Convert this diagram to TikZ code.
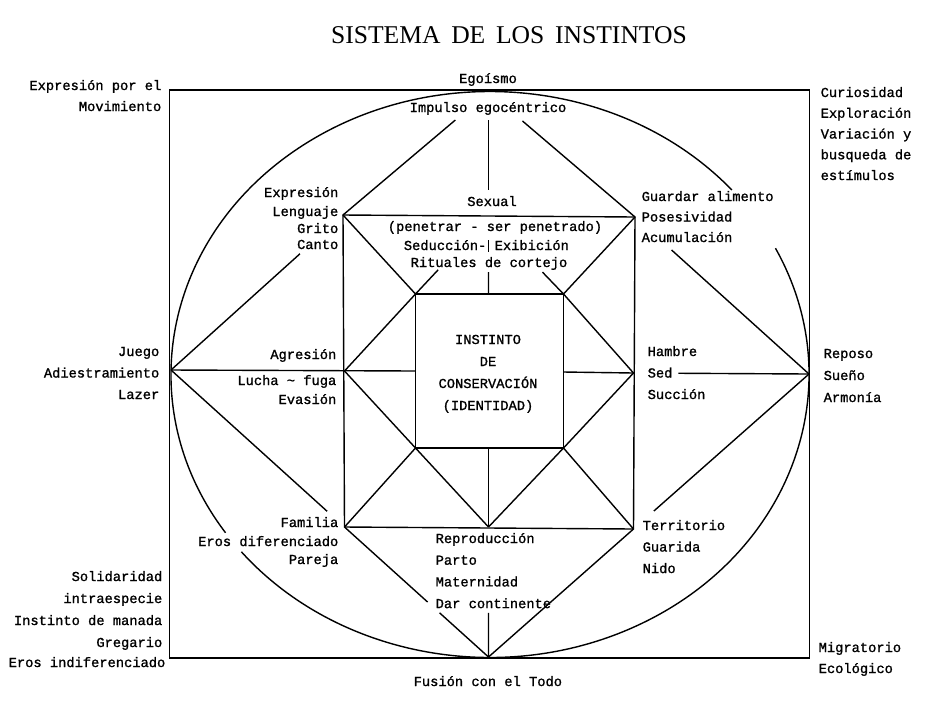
\documentclass[tikz,border=0pt]{standalone}
\usepackage{fontspec}
\setmainfont{Liberation Serif}
\newfontfamily\lmono[FakeBold=1.2]{Liberation Mono}
\usetikzlibrary{calc}
\begin{document}
\begin{tikzpicture}[x=0.75pt,y=-0.75pt,line width=1.05pt,
  lbl/.style={font=\lmono\fontsize{10.3}{12}\selectfont,inner sep=0pt},
  ttl/.style={font=\fontsize{19.2}{23}\selectfont,inner sep=0pt}]
\useasboundingbox (0,0) rectangle (928,708);
% key points
\coordinate (T) at (488.5,92);   \coordinate (B) at (488.5,657);
\coordinate (L) at (171,370);  \coordinate (R) at (809,374);
\coordinate (C) at (490,374.5);
\coordinate (mTL) at (343,215); \coordinate (mT) at (488.5,216); \coordinate (mTR) at (635,217);
\coordinate (mL) at (344.5,371);  \coordinate (mR) at (633.5,373);
\coordinate (mBL) at (344.5,527); \coordinate (mB) at (488.5,527); \coordinate (mBR) at (633.5,529);
\coordinate (iTL) at (415.5,294); \coordinate (iT) at (488.5,294); \coordinate (iTR) at (563.5,294);
\coordinate (iL) at (415.5,371);  \coordinate (iR) at (563.5,372);
\coordinate (iBL) at (415.5,448); \coordinate (iB) at (488.5,448); \coordinate (iBR) at (563.5,448);
% outer frame and ellipse
\draw (169.5,90) rectangle (809.5,658);
\draw ([shift={(-26.5:319 and 283)}]C) arc[start angle=-26.5,end angle=141.2,x radius=319,y radius=283];
\draw ([shift={(146:319 and 283)}]C) arc[start angle=146,end angle=319.3,x radius=319,y radius=283];
% squares
\draw (mTL) -- (mTR) -- (mBR) -- (mBL) -- cycle;
\draw (iTL) -- (iTR) -- (iBR) -- (iBL) -- cycle;
% diagonals between squares
\draw (mTL) -- (iTL); \draw (mTR) -- (iTR); \draw (mBL) -- (iBL); \draw (mBR) -- (iBR);
\draw (iTL) -- (mL); \draw (iBL) -- (mL); \draw (iTR) -- (mR); \draw (iBR) -- (mR);
\draw (iBL) -- (mB); \draw (iBR) -- (mB);
\draw ($(mT)!0.69!(iTL)$) -- (iTL);
\draw ($(mT)!0.72!(iTR)$) -- (iTR);
% cross lines
\draw ($(mT)!0.718!(iT)$) -- (iT);
\draw ($(mT)!0.308!(iT)$) -- ($(mT)!0.46!(iT)$);
\draw (iB) -- (mB);
\draw (iR) -- (mR);
\draw (L) -- (iL);
% from top point
\draw ($(T)!0.228!(mTL)$) -- (mTL);
\draw ($(T)!0.232!(mTR)$) -- (mTR);
\draw ($(T)!0.226!(mT)$) -- ($(T)!0.79!(mT)$);
% from left point
\draw (L) -- ($(L)!0.75!(mTL)$);
\draw (L) -- ($(L)!0.9!(mBL)$);
% from right point
\draw (R) -- ($(R)!0.79!(mTR)$);
\draw (R) -- ($(R)!0.744!(mR)$);
\draw (R) -- ($(R)!0.884!(mBR)$);
% from bottom point
\draw (mBL) -- ($(mBL)!0.577!(B)$);
\draw ($(mBL)!0.66!(B)$) -- (B);
\draw ($(mB)!0.66!(B)$) -- (B);
\draw (mBR) -- (B);
% title
\node[ttl,anchor=base] (title) at (509,43) {SISTEMA\, DE\, LOS\, INSTINTOS};
% labels
\node[lbl,anchor=base east] (epm1) at (162,90) {Expresión por el};
\node[lbl,anchor=base east] (epm2) at (162,111) {Movimiento};
\node[lbl,anchor=base] (ego) at (488,83) {Egoísmo};
\node[lbl,anchor=base] (imp) at (488,112) {Impulso egocéntrico};
\foreach \t [count=\i] in {Curiosidad,Exploración,Variación y,busqueda de,estímulos}
  \node[lbl,anchor=base west] (cur\i) at (820,{97+20.75*(\i-1)}) {\t};
\foreach \t/\y [count=\i] in {Expresión/197,Lenguaje/216,Grito/233,Canto/249}
  \node[lbl,anchor=base east] (exp\i) at (339,\y) {\t};
\node[lbl,anchor=base] (sex) at (492,206) {Sexual};
\node[lbl,anchor=base] (pen) at (495,231) {(penetrar - ser penetrado)};
\node[lbl,anchor=base east] (sed1) at (487,250) {Seducción-};
\node[lbl,anchor=base west] (exi) at (494,250) {Exibición};
\node[lbl,anchor=base] (rit) at (489,267) {Rituales de cortejo};
\foreach \t [count=\i] in {Guardar alimento,Posesividad,Acumulación}
  \node[lbl,anchor=base west] (gua\i) at (641,{201+20.5*(\i-1)}) {\t};
\foreach \t [count=\i] in {Juego,Adiestramiento,Lazer}
  \node[lbl,anchor=base east] (jue\i) at (160,{356+21.5*(\i-1)}) {\t};
\foreach \t/\y [count=\i] in {Agresión/359,Lucha \textasciitilde{} fuga/385,Evasión/404}
  \node[lbl,anchor=base east] (agr\i) at (337,\y) {\t};
\foreach \t [count=\i] in {INSTINTO,DE,CONSERVACIÓN,(IDENTIDAD)}
  \node[lbl,anchor=base] (ins\i) at (488,{344+22*(\i-1)}) {\t};
\foreach \t [count=\i] in {Hambre,Sed,Succión}
  \node[lbl,anchor=base west] (ham\i) at (647,{356+21.5*(\i-1)}) {\t};
\foreach \t [count=\i] in {Reposo,Sueño,Armonía}
  \node[lbl,anchor=base west] (rep\i) at (823,{358+22*(\i-1)}) {\t};
\foreach \t/\y [count=\i] in {Familia/527,Eros diferenciado/546,Pareja/564}
  \node[lbl,anchor=base east] (fam\i) at (339,\y) {\t};
\foreach \t [count=\i] in {Solidaridad,intraespecie,Instinto de manada,Gregario}
  \node[lbl,anchor=base east] (sol\i) at (163,{581+22*(\i-1)}) {\t};
\node[lbl,anchor=base east] (sol5) at (166,667) {Eros indiferenciado};
\foreach \t [count=\i] in {Reproducción,Parto,Maternidad,Dar continente}
  \node[lbl,anchor=base west] (pro\i) at (435,{543+21.7*(\i-1)}) {\t};
\node[lbl,anchor=base west] (fus) at (413,686) {Fusión con el Todo};
\foreach \t [count=\i] in {Territorio,Guarida,Nido}
  \node[lbl,anchor=base west] (ter\i) at (642,{530+21.5*(\i-1)}) {\t};
\node[lbl,anchor=base west] (mig1) at (818,652) {Migratorio};
\node[lbl,anchor=base west] (mig2) at (818,673) {Ecológico};
\end{tikzpicture}
\end{document}
